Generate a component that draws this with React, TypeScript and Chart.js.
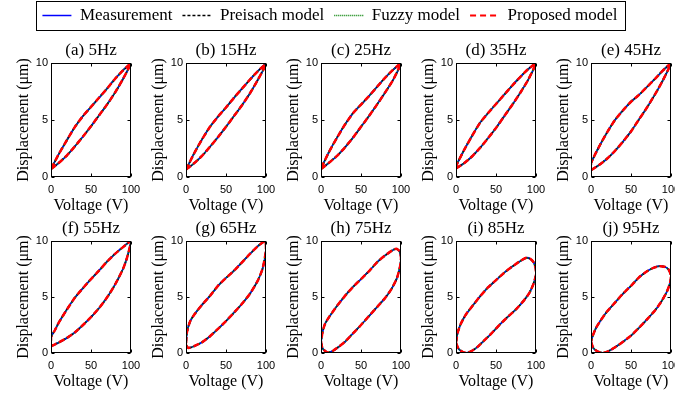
import React, { useEffect, useRef } from "react";
import { Chart, registerables } from "chart.js";

Chart.register(...registerables);

// ---------------- data ----------------
const panelTitles = ["(a) 5Hz", "(b) 15Hz", "(c) 25Hz", "(d) 35Hz", "(e) 45Hz", "(f) 55Hz", "(g) 65Hz", "(h) 75Hz", "(i) 85Hz", "(j) 95Hz"];
const seriesNames = ["Measurement", "Preisach model", "Fuzzy model", "Proposed model"];
const voltageTicks = [0, 50, 100];
const displacementTicks = [0, 5, 10];
const xLabel = "Voltage (V)";
const yLabel = "Displacement (\u03bcm)";

// (a) 5Hz
const volt5 = [0, 10, 20, 30, 40, 50, 60, 70, 80, 90, 100, 90, 80, 70, 60, 50, 40, 30, 20, 10, 0];
const disp5 = [0.7, 1.25, 1.9, 2.7, 3.55, 4.45, 5.4, 6.35, 7.4, 8.6, 10, 9.35, 8.6, 7.75, 6.95, 6.15, 5.35, 4.4, 3.25, 2.05, 0.7];
// (b) 15Hz
const volt15 = [0, 10, 20, 30, 40, 50, 60, 70, 80, 90, 100, 90, 80, 70, 60, 50, 40, 30, 20, 10, 0];
const disp15 = [0.65, 1.2, 1.85, 2.65, 3.5, 4.4, 5.35, 6.3, 7.35, 8.55, 9.9, 9.3, 8.55, 7.75, 6.95, 6.1, 5.3, 4.4, 3.3, 2.05, 0.65];
// (c) 25Hz
const volt25 = [0, 10, 20, 30, 40, 50, 60, 70, 80, 90, 100, 90, 80, 70, 60, 50, 40, 30, 20, 10, 0];
const disp25 = [0.7, 1.25, 1.85, 2.6, 3.45, 4.4, 5.35, 6.35, 7.4, 8.5, 10, 9.4, 8.7, 7.9, 7.1, 6.35, 5.6, 4.6, 3.45, 2.2, 0.75];
// (d) 35Hz
const volt35 = [0, 10, 20, 30, 40, 50, 60, 70, 80, 90, 100, 90, 80, 70, 60, 50, 40, 30, 20, 10, 0, 0];
const disp35 = [0.75, 1.2, 1.8, 2.55, 3.4, 4.3, 5.3, 6.3, 7.35, 8.5, 10, 9.45, 8.75, 8.0, 7.2, 6.4, 5.6, 4.75, 3.6, 2.35, 0.95, 0.75];
// (e) 45Hz
const volt45 = [0, 10, 20, 30, 40, 50, 60, 70, 80, 90, 100, 90, 80, 70, 60, 50, 40, 30, 20, 10, 0, 0];
const disp45 = [0.6, 1.05, 1.6, 2.3, 3.1, 4.0, 5.05, 6.1, 7.25, 8.5, 10, 9.35, 8.6, 7.9, 7.2, 6.6, 5.85, 5.0, 3.9, 2.65, 1.2, 0.6];
// (f) 55Hz
const volt55 = [0, 10, 20, 30, 40, 50, 60, 70, 80, 90, 95, 100, 95, 90, 80, 70, 60, 50, 40, 30, 20, 10, 5, 0, 0];
const disp55 = [0.6, 0.95, 1.35, 1.85, 2.5, 3.2, 4.0, 4.95, 6.1, 7.5, 8.5, 10, 9.75, 9.45, 8.85, 8.15, 7.35, 6.6, 5.8, 4.95, 3.9, 2.75, 2.05, 1.4, 0.6];
// (g) 65Hz
const volt65 = [0, 3, 10, 20, 30, 40, 50, 60, 70, 80, 90, 96, 100, 99, 90, 80, 70, 60, 50, 40, 30, 20, 10, 5, 1, 0];
const disp65 = [0.7, 0.45, 0.6, 0.95, 1.5, 2.15, 2.85, 3.6, 4.4, 5.3, 6.5, 7.6, 9.2, 10, 9.55, 8.85, 8.1, 7.35, 6.7, 6.0, 5.1, 4.3, 3.4, 2.8, 1.8, 0.7];
// (h) 75Hz
const volt75 = [0, 2, 8, 15, 23, 30, 40, 50, 60, 70, 80, 88, 95, 99, 100, 98, 94, 90, 80, 70, 60, 50, 40, 30, 20, 10, 5, 2, 0];
const disp75 = [1.0, 0.4, 0.05, 0.2, 0.6, 1.0, 1.75, 2.5, 3.3, 4.1, 4.9, 5.7, 6.7, 7.8, 8.5, 9.1, 9.3, 9.2, 8.7, 8.1, 7.3, 6.6, 5.9, 5.1, 4.2, 3.2, 2.6, 1.9, 1.0];
// (i) 85Hz
const volt85 = [0, 3, 8, 13, 20, 27, 35, 45, 55, 65, 75, 85, 92, 97, 100, 99.5, 97, 93, 88, 80, 70, 60, 50, 40, 30, 20, 12, 6, 2, 0];
const disp85 = [0.9, 0.4, 0.1, 0.0, 0.2, 0.55, 1.1, 1.8, 2.55, 3.25, 3.9, 4.7, 5.4, 6.2, 7.0, 7.6, 8.1, 8.4, 8.5, 8.2, 7.7, 7.15, 6.5, 5.85, 5.05, 4.15, 3.4, 2.6, 1.8, 0.9];
// (j) 95Hz
const volt95 = [0, 3, 8, 15, 24, 32, 40, 50, 60, 70, 80, 88, 95, 99, 100, 97, 92, 85, 78, 70, 60, 50, 40, 30, 20, 12, 6, 2, 0];
const disp95 = [1.0, 0.45, 0.15, 0.0, 0.25, 0.6, 1.0, 1.55, 2.25, 3.0, 3.8, 4.6, 5.5, 6.3, 6.9, 7.45, 7.7, 7.75, 7.6, 7.3, 6.75, 6.0, 5.3, 4.5, 3.7, 2.9, 2.2, 1.5, 1.0];

const loopVoltages = [volt5, volt15, volt25, volt35, volt45, volt55, volt65, volt75, volt85, volt95];
const loopDisplacements = [disp5, disp15, disp25, disp35, disp45, disp55, disp65, disp75, disp85, disp95];

// ---------------- styles / layout ----------------
const seriesStyles = [
  { color: "#0000ff", width: 1.8, dash: [] as number[], legendWidth: 1.5, legendDash: [] as number[], order: 4 },
  { color: "#000000", width: 1.8, dash: [4, 2, 1, 2], legendWidth: 1.5, legendDash: [3, 2], order: 3 },
  { color: "#008000", width: 1.8, dash: [1, 1.5], legendWidth: 1.5, legendDash: [1, 1], order: 2 },
  { color: "#ff0000", width: 2.5, dash: [6, 3], legendWidth: 2, legendDash: [6, 4], order: 1 },
];

const SERIF = '"Liberation Serif", "Times New Roman", serif';
const SANS = '"Liberation Sans", Arial, sans-serif';
const ROW_TOPS = [36, 214];
const PLOT_H = [114, 112];
const TITLE_BLOCK = 27;
const XAXIS_H = 38;
const YAXIS_W = 51;
const PLOT_W = 80;
const COL_STEP = 135;
const CANVAS_W = 145;

const boxPlugin = {
  id: "matlabBox",
  afterDraw(chart: any) {
    const { ctx, chartArea } = chart;
    const xs = chart.scales.x;
    const ys = chart.scales.y;
    const l = Math.round(chartArea.left) + 0.5;
    const r = Math.round(chartArea.right) - 0.5;
    const t = Math.round(chartArea.top) + 0.5;
    const b = Math.round(chartArea.bottom) - 0.5;
    ctx.save();
    ctx.strokeStyle = "#000";
    ctx.lineWidth = 1;
    ctx.setLineDash([]);
    ctx.strokeRect(l, t, r - l, b - t);
    ctx.beginPath();
    for (const v of voltageTicks) {
      const px = Math.round(xs.getPixelForValue(v)) + 0.5;
      ctx.moveTo(px, b); ctx.lineTo(px, b - 3);
      ctx.moveTo(px, t); ctx.lineTo(px, t + 3);
    }
    for (const v of displacementTicks) {
      const py = Math.round(ys.getPixelForValue(v)) + 0.5;
      ctx.moveTo(l, py); ctx.lineTo(l + 3, py);
      ctx.moveTo(r, py); ctx.lineTo(r - 3, py);
    }
    ctx.stroke();
    ctx.restore();
  },
};

function Panel({ idx }: { idx: number }) {
  const ref = useRef<HTMLCanvasElement>(null);
  const row = Math.floor(idx / 5);
  const col = idx % 5;
  const height = TITLE_BLOCK + PLOT_H[row] + XAXIS_H;
  useEffect(() => {
    const vs = loopVoltages[idx];
    const ds = loopDisplacements[idx];
    const chart = new Chart(ref.current as HTMLCanvasElement, {
      type: "scatter",
      data: {
        datasets: seriesStyles.map((s, k) => ({
          label: seriesNames[k],
          data: vs.map((v, i) => ({ x: v, y: ds[i] })),
          showLine: true,
          borderColor: s.color,
          backgroundColor: s.color,
          borderWidth: s.width,
          borderDash: s.dash,
          order: s.order,
          pointRadius: 0,
          tension: 0.2,
        })),
      } as any,
      options: {
        responsive: false,
        animation: false,
        events: [],
        layout: { padding: { left: 0, right: CANVAS_W - YAXIS_W - PLOT_W, top: 0, bottom: 0 } },
        plugins: {
          legend: { display: false },
          tooltip: { enabled: false },
        },
        scales: {
          x: {
            type: "linear",
            min: 0,
            max: 100,
            grid: { display: false, drawTicks: false },
            border: { display: false },
            ticks: { color: "#000", font: { family: SANS, size: 11 }, padding: 6, maxRotation: 0 },
            afterBuildTicks: (s: any) => { s.ticks = voltageTicks.map((v) => ({ value: v })); },
            afterFit: (s: any) => { s.height = XAXIS_H; s.paddingLeft = 0; s.paddingRight = 0; },
            title: { display: true, text: xLabel, color: "#000", font: { family: SERIF, size: 16 }, padding: { top: 0, bottom: 0 } },
          },
          xTop: {
            type: "linear",
            position: "top",
            min: 0,
            max: 100,
            grid: { display: false, drawTicks: false },
            border: { display: false },
            ticks: { display: false },
            afterFit: (s: any) => { s.height = TITLE_BLOCK; s.paddingLeft = 0; s.paddingRight = 0; },
            title: { display: true, text: panelTitles[idx], color: "#000", font: { family: SERIF, size: 17 }, padding: { top: 4, bottom: 0 } },
          },
          y: {
            type: "linear",
            min: 0,
            max: 10,
            grid: { display: false, drawTicks: false },
            border: { display: false },
            ticks: { color: "#000", font: { family: SANS, size: 11 }, padding: 3 },
            afterBuildTicks: (s: any) => { s.ticks = displacementTicks.map((v) => ({ value: v })); },
            afterFit: (s: any) => { s.width = YAXIS_W; s.paddingTop = 0; s.paddingBottom = 0; },
            title: { display: true, text: yLabel, color: "#000", font: { family: SERIF, size: 16 }, padding: { top: 14, bottom: 0 } },
          },
        },
      } as any,
      plugins: [boxPlugin],
    });
    return () => chart.destroy();
  }, [idx]);
  return (
    <canvas
      ref={ref}
      width={CANVAS_W}
      height={height}
      style={{ position: "absolute", left: col * COL_STEP, top: ROW_TOPS[row], width: CANVAS_W, height }}
    />
  );
}

const LEGEND_CANVAS = { left: 10, top: -3, width: 640, height: 80 };
const LEGEND_BOX = { left: 36, top: 1, width: 589, height: 29 };

const legendBorderPlugin = {
  id: "legendBorder",
  afterDraw(chart: any) {
    const { ctx } = chart;
    ctx.save();
    ctx.strokeStyle = "#000";
    ctx.lineWidth = 1;
    ctx.setLineDash([]);
    ctx.strokeRect(
      LEGEND_BOX.left - LEGEND_CANVAS.left + 0.5,
      LEGEND_BOX.top - LEGEND_CANVAS.top + 0.5,
      LEGEND_BOX.width,
      LEGEND_BOX.height
    );
    ctx.restore();
  },
};

function Legend() {
  const ref = useRef<HTMLCanvasElement>(null);
  useEffect(() => {
    const chart = new Chart(ref.current as HTMLCanvasElement, {
      type: "scatter",
      data: {
        datasets: seriesStyles.map((s, k) => ({
          label: seriesNames[k],
          data: [],
          borderColor: s.color,
          backgroundColor: s.color,
          borderWidth: s.legendWidth,
          borderDash: s.legendDash,
        })),
      } as any,
      options: {
        responsive: false,
        animation: false,
        events: [],
        layout: { padding: 0 },
        scales: { x: { display: false }, y: { display: false } },
        plugins: {
          tooltip: { enabled: false },
          legend: {
            display: true,
            position: "top",
            align: "center",
            labels: {
              usePointStyle: true,
              pointStyle: "line",
              pointStyleWidth: 29,
              padding: 10,
              color: "#000",
              font: { family: SERIF, size: 17 },
              generateLabels: (c: any) =>
                c.data.datasets.map((ds: any, i: number) => ({
                  text: ds.label,
                  datasetIndex: i,
                  strokeStyle: ds.borderColor,
                  fillStyle: ds.borderColor,
                  lineWidth: ds.borderWidth,
                  lineDash: ds.borderDash,
                  pointStyle: "line",
                  hidden: false,
                  fontColor: "#000",
                })),
            },
          },
        },
      } as any,
      plugins: [legendBorderPlugin],
    });
    return () => chart.destroy();
  }, []);
  return (
    <canvas
      ref={ref}
      width={LEGEND_CANVAS.width}
      height={LEGEND_CANVAS.height}
      style={{ position: "absolute", left: LEGEND_CANVAS.left, top: LEGEND_CANVAS.top, width: LEGEND_CANVAS.width, height: LEGEND_CANVAS.height }}
    />
  );
}

export default function App() {
  return (
    <div style={{ position: "fixed", left: 0, top: 0, width: 675, height: 394, background: "#fff", overflow: "hidden" }}>
      <Legend />
      {panelTitles.map((_, i) => (
        <Panel key={i} idx={i} />
      ))}
    </div>
  );
}
